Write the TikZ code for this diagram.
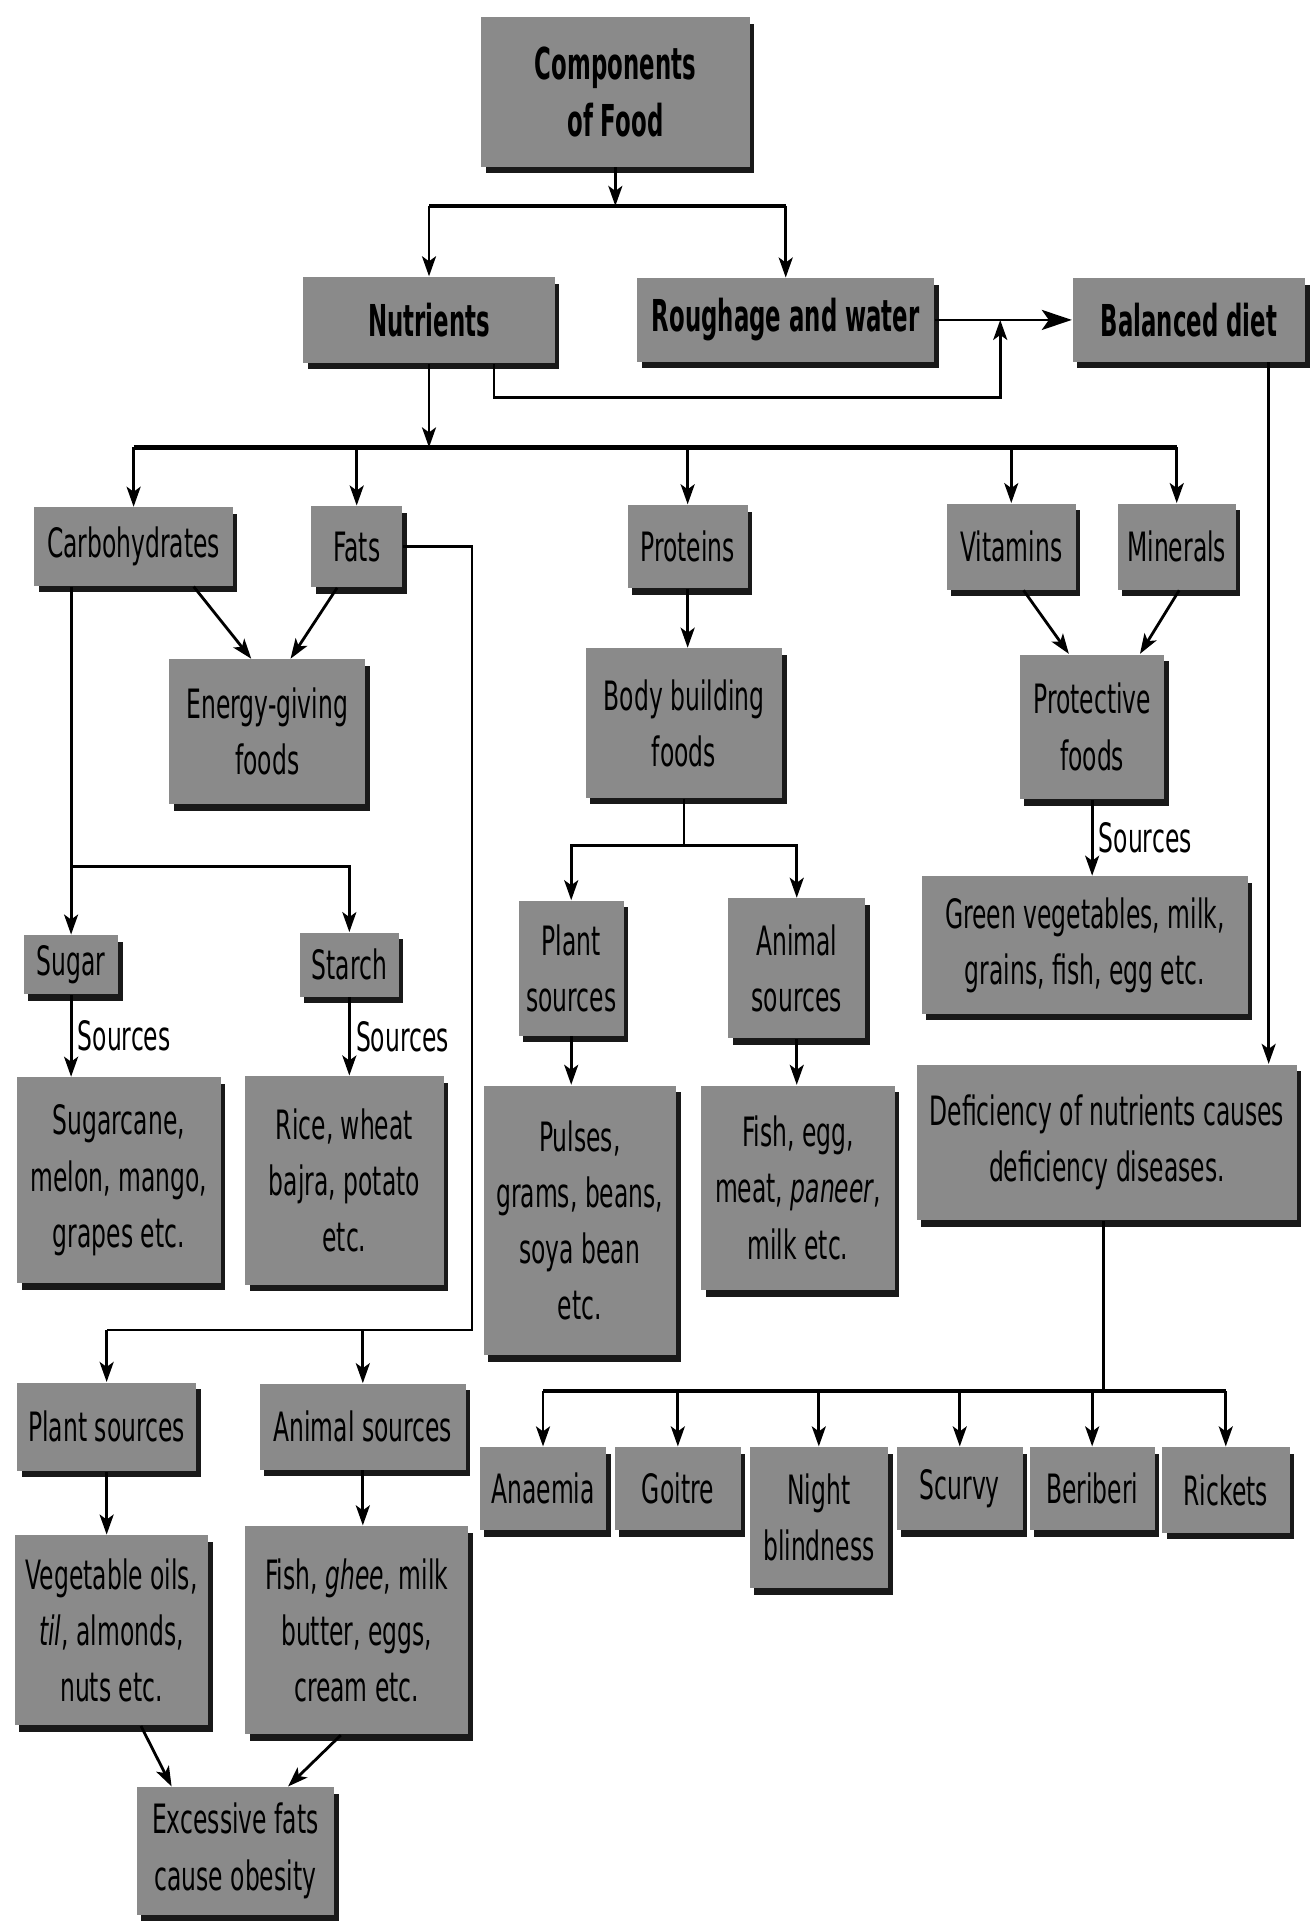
\documentclass[tikz,border=0pt]{standalone}
\usepackage{fontspec}
\setmainfont{DejaVu Sans}[FakeStretch=0.58]
\newfontfamily\headfont{DejaVu Sans}[FakeStretch=0.52]
\usetikzlibrary{arrows.meta, calc, shadows}
\newcommand{\pxu}{0.12255mm}
\definecolor{boxgray}{RGB}{138,138,138}

\begin{document}
\begin{tikzpicture}[
    x=\pxu, y=-\pxu,
    font=\fontsize{11.5}{16}\selectfont,
    block/.style={
        rectangle,
        fill=boxgray,
        align=center,
        inner sep=2pt,
        drop shadow={shadow xshift=0.45mm, shadow yshift=-0.65mm, fill=black, opacity=0.9}
    },
    headblock/.style={
        block,
        font=\headfont\bfseries\fontsize{12.5}{16}\selectfont
    },
    sized/.style 2 args={
        minimum width=#1*\pxu,
        minimum height=#2*\pxu
    },
    line/.style={
        draw,
        line width=0.8pt
    },
    bus/.style={
        line,
        line width=1.2pt
    },
    arrow/.style={
        line,
        -{Stealth[length=2mm, width=1.4mm, inset=0.5mm]}
    },
    bigarrow/.style={
        line,
        -{Stealth[length=3mm, width=2mm, inset=0.7mm]}
    },
    srclabel/.style={
        right,
        inner sep=1.5pt
    }
]
\useasboundingbox (0,0) rectangle (1073,1568);

% --- Top level ---
\node[headblock, sized={219}{122}] (comp) at (502,75) {Components\\of Food};
\node[headblock, sized={205}{70}] (nutr) at (350,261) {Nutrients};
\node[headblock, sized={242}{68}] (rough) at (641,261) {Roughage and water};
\node[headblock, sized={190}{68}] (bal) at (970,261) {Balanced diet};

% --- Kinds of nutrients ---
\node[block, sized={162}{64}] (carb) at (109,446) {Carbohydrates};
\node[block, sized={74}{66}] (fats) at (291,446) {Fats};
\node[block, sized={98}{68}] (prot) at (561,446) {Proteins};
\node[block, sized={105}{70}] (vit) at (825,446) {Vitamins};
\node[block, sized={96}{70}] (min) at (960,446) {Minerals};

% --- Food groups ---
\node[block, sized={160}{118}] (energy) at (218,597) {Energy-giving\\foods};
\node[block, sized={160}{122}] (body) at (558,590) {Body building\\foods};
\node[block, sized={118}{118}] (protf) at (891,593) {Protective\\foods};

% --- Carbohydrates branch ---
\node[block, sized={77}{48}] (sugar) at (58,787) {Sugar};
\node[block, sized={81}{52}] (starch) at (285,787) {Starch};
\node[block, sized={166}{168}] (sugarcane) at (97,963) {Sugarcane,\\melon, mango,\\grapes etc.};
\node[block, sized={162}{170}] (rice) at (281,963) {Rice, wheat\\bajra, potato\\etc.};

% --- Proteins branch ---
\node[block, sized={86}{110}] (plantp) at (466,790) {Plant\\sources};
\node[block, sized={112}{114}] (animalp) at (650,790) {Animal\\sources};
\node[block, sized={157}{220}, anchor=north] (pulses) at (473,885) {Pulses,\\grams, beans,\\soya bean\\etc.};
\node[block, sized={158}{167}, anchor=north] (fishegg) at (651,885) {Fish, egg,\\meat, \textit{paneer},\\milk etc.};

% --- Protective foods and deficiency ---
\node[block, sized={266}{112}] (green) at (885,771) {Green vegetables, milk,\\grains, fish, egg etc.};
\node[block, sized={310}{127}] (defic) at (903,932) {Deficiency of nutrients causes\\deficiency diseases.};

% --- Deficiency diseases ---
\node[block, sized={103}{68}, anchor=north] (anaemia) at (443,1180) {Anaemia};
\node[block, sized={103}{68}, anchor=north] (goitre) at (553,1180) {Goitre};
\node[block, sized={113}{115}, anchor=north] (night) at (668,1180) {Night\\blindness};
\node[block, sized={103}{68}, anchor=north] (scurvy) at (783,1180) {Scurvy};
\node[block, sized={102}{68}, anchor=north] (beriberi) at (891,1180) {Beriberi};
\node[block, sized={104}{70}, anchor=north] (rickets) at (1000,1180) {Rickets};

% --- Fats branch ---
\node[block, sized={146}{72}] (plantf) at (87,1164) {Plant sources};
\node[block, sized={168}{70}] (animalf) at (296,1164) {Animal sources};
\node[block, sized={158}{155}] (vegoil) at (91,1330) {Vegetable oils,\\\textit{til}, almonds,\\nuts etc.};
\node[block, sized={182}{170}] (fishghee) at (291,1330) {Fish, \textit{ghee}, milk\\butter, eggs,\\cream etc.};
\node[block, sized={161}{104}] (obesity) at (192,1510) {Excessive fats\\cause obesity};


% --- Connections ---

% Components split
\coordinate (splitTop) at (502,168);
\draw[arrow] (comp.south) -- (splitTop);
\draw[bus] (nutr.north |- splitTop) -- (rough.north |- splitTop);
\draw[arrow] (nutr.north |- splitTop) -- (nutr.north);
\draw[arrow] (rough.north |- splitTop) -- (rough.north);

% Into balanced diet
\coordinate (joinBal) at (816,261);
\coordinate (loopNutr) at (403,324);
\draw[bigarrow] (rough.east) -- (bal.west);
\draw[arrow] (nutr.south -| loopNutr) -- (loopNutr) -| (joinBal);

% Nutrients bus
\coordinate (busNutr) at (350,365);
\draw[arrow] (nutr.south) -- (busNutr);
\draw[bus] (carb.north |- busNutr) -- (min.north |- busNutr);
\foreach \n in {carb, fats, prot, vit, min}
    \draw[arrow] (\n.north |- busNutr) -- (\n.north);

% Food groups
\draw[arrow] ($(carb.south)+(49,0)$) -- ($(energy.north)+(-13,0)$);
\draw[arrow] ($(fats.south)+(-16,0)$) -- ($(energy.north)+(19,0)$);
\draw[arrow] (prot.south) -- (prot.south |- body.north);
\draw[arrow] ($(vit.south)+(10,0)$) -- ($(protf.north)+(-19,0)$);
\draw[arrow] ($(min.south)+(2,0)$) -- ($(protf.north)+(39,0)$);
\draw[arrow] (protf.south) -- node[srclabel] {Sources} (protf.south |- green.north);

% Carbohydrates
\coordinate (busCarb) at (58,707);
\draw[arrow] (carb.south -| sugar.north) -- (sugar.north);
\draw[arrow] (sugar.north |- busCarb) -| (starch.north);
\draw[arrow] (sugar.south) -- node[srclabel] {Sources} (sugar.south |- sugarcane.north);
\draw[arrow] (starch.south) -- node[srclabel] {Sources} (starch.south |- rice.north);

% Proteins
\coordinate (busBody) at (558,690);
\draw[line] (body.south) -- (busBody);
\draw[arrow] (busBody) -| (plantp.north);
\draw[arrow] (busBody) -| (animalp.north);
\draw[arrow] (plantp.south) -- (plantp.south |- pulses.north);
\draw[arrow] (animalp.south) -- (animalp.south |- fishegg.north);

% Balanced diet to deficiency
\coordinate (balOut) at ($(bal.south)+(65,0)$);
\draw[arrow] (balOut) -- (balOut |- defic.north);

% Diseases
\coordinate (busDis) at (900,1135);
\draw[line] (defic.south -| busDis) -- (busDis);
\draw[bus] (anaemia.north |- busDis) -- (rickets.north |- busDis);
\foreach \n in {anaemia, goitre, night, scurvy, beriberi, rickets}
    \draw[arrow] (\n.north |- busDis) -- (\n.north);

% Fats
\coordinate (fatsTurn) at (385,446);
\coordinate (busFats) at (385,1085);
\draw[line] (fats.east) -- (fatsTurn) -- (busFats) -- (plantf.north |- busFats);
\foreach \n in {plantf, animalf}
    \draw[arrow] (\n.north |- busFats) -- (\n.north);
\draw[arrow] (plantf.south) -- (plantf.south |- vegoil.north);
\draw[arrow] (animalf.south) -- (animalf.south |- fishghee.north);
\draw[arrow] ($(vegoil.south)+(24,0)$) -- ($(obesity.north)+(-52,0)$);
\draw[arrow] ($(fishghee.south)+(-13,0)$) -- ($(obesity.north)+(43,0)$);

\end{tikzpicture}
\end{document}
